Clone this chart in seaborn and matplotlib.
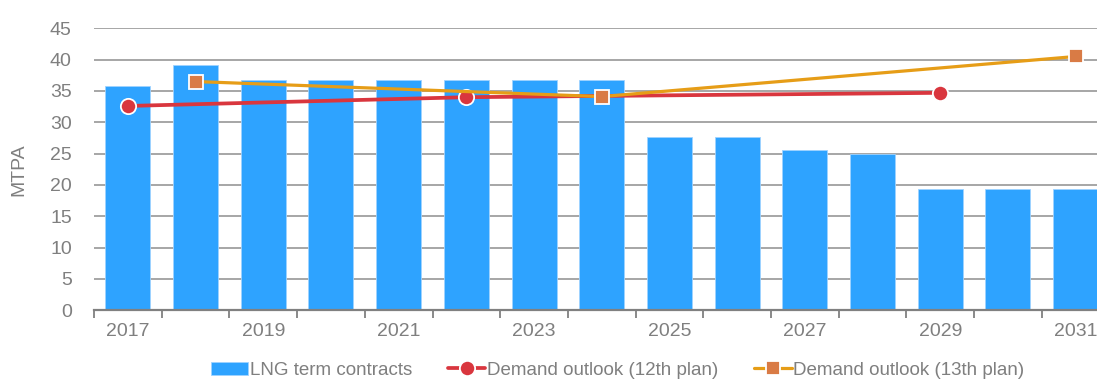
import numpy as np
import pandas as pd
import matplotlib
matplotlib.use("Agg")
import matplotlib.pyplot as plt
import seaborn as sns

years = list(range(2017, 2032))
contracts = [35.8, 39.2, 36.7, 36.7, 36.7, 36.7, 36.7, 36.7, 27.7, 27.7, 25.6, 24.9, 19.4, 19.4, 19.4]
plan12_years = [2017, 2022, 2029]
plan12_values = [32.6, 34.0, 34.7]
plan13_years = [2018, 2024, 2031]
plan13_values = [36.5, 34.1, 40.5]
y_ticks = [0, 5, 10, 15, 20, 25, 30, 35, 40, 45]
x_labels = [str(y) if (y - 2017) % 2 == 0 else "" for y in years]

BAR = "#2EA3FF"
RED = "#D9363E"
GOLD = "#E69D17"
SQ = "#D97B45"
GRID = "#A6A6A6"
TXT = "#7F7F7F"

sns.set_theme(style="white")
plt.rcParams["font.family"] = ["Liberation Sans", "DejaVu Sans"]

fig = plt.figure(figsize=(10.97, 3.81), dpi=100)
ax = fig.add_axes([94 / 1097, 0.186, (15 * 67.7) / 1097, 0.7397])

bars = pd.DataFrame({"pos": np.arange(len(years)), "year": [str(y) for y in years], "value": contracts})
sns.barplot(data=bars, x="pos", y="value", color=BAR, saturation=1, width=0.665,
            edgecolor="#9FD3FF", linewidth=0.6, ax=ax, zorder=3, label="LNG term contracts")

p12 = pd.DataFrame({"pos": [years.index(y) for y in plan12_years], "value": plan12_values})
p13 = pd.DataFrame({"pos": [years.index(y) for y in plan13_years], "value": plan13_values})
sns.lineplot(data=p12, x="pos", y="value", color=RED, linewidth=2.7, marker="o", markersize=11,
             markerfacecolor=RED, markeredgecolor="white", markeredgewidth=1.3, ax=ax, zorder=5,
             label="Demand outlook (12th plan)")
sns.lineplot(data=p13, x="pos", y="value", color=GOLD, linewidth=2.3, marker="s", markersize=10,
             markerfacecolor=SQ, markeredgecolor="white", markeredgewidth=1.3, ax=ax, zorder=6,
             label="Demand outlook (13th plan)")

ax.set_ylim(0, 45)
ax.set_xlim(-0.5, len(years) - 0.5)
ax.set_yticks(y_ticks)
ax.set_yticklabels([str(v) for v in y_ticks])
ax.yaxis.grid(True, color=GRID, linewidth=1.4, zorder=0)
ax.set_axisbelow(True)

# boundary tick marks, year labels at bar centres
ax.set_xticks(np.arange(-0.5, len(years), 1.0))
ax.set_xticklabels([])
ax.set_xticks(np.arange(len(years)), minor=True)
ax.set_xticklabels(x_labels, minor=True)
ax.tick_params(axis="x", which="major", length=6, width=1.3, color="#808080", direction="out", bottom=True)
ax.tick_params(axis="x", which="minor", length=0, pad=9, labelsize=14, labelcolor=TXT)
ax.tick_params(axis="y", length=0, pad=16, labelsize=14, labelcolor=TXT)

for s in ["top", "right", "left"]:
    ax.spines[s].set_visible(False)
ax.spines["bottom"].set_color("#808080")
ax.spines["bottom"].set_linewidth(1.6)
ax.spines["bottom"].set_zorder(7)

ax.set_xlabel("")
ax.set_ylabel("MTPA", fontsize=14, color=TXT, labelpad=16)

if ax.legend_:
    ax.legend_.remove()
handles, labels = ax.get_legend_handles_labels()
order = [labels.index("LNG term contracts"), labels.index("Demand outlook (12th plan)"),
         labels.index("Demand outlook (13th plan)")]
fig.legend([handles[i] for i in order], [labels[i] for i in order], loc="center",
           bbox_to_anchor=(0.563, 0.028), ncol=3, frameon=False,
           fontsize=13.5, labelcolor=TXT, handlelength=2.0, handletextpad=0.1, columnspacing=1.9)

fig.savefig("out.png", dpi=100)
